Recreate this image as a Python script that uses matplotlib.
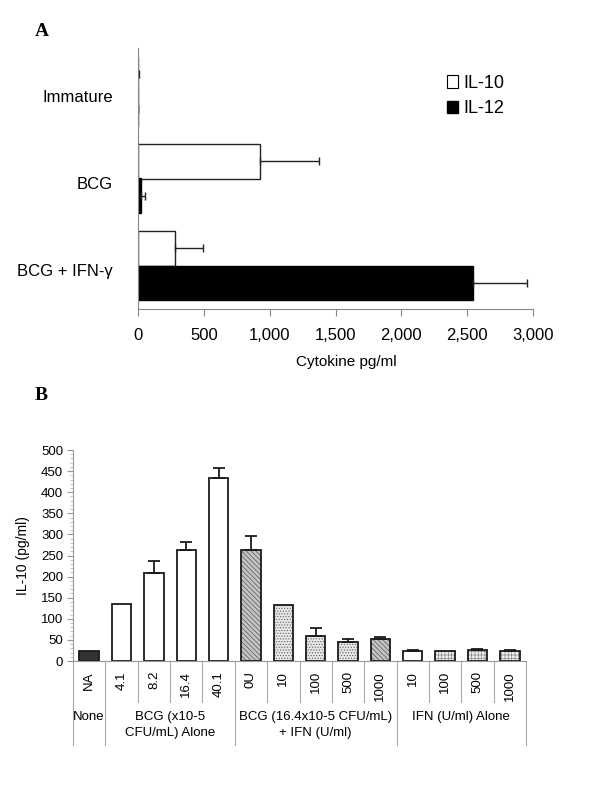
import matplotlib
matplotlib.use("Agg")
import matplotlib.pyplot as plt
from matplotlib.patches import Patch
import numpy as np

plt.rcParams['font.family'] = ['Liberation Sans', 'DejaVu Sans']
plt.rcParams['hatch.linewidth'] = 0.5

# ---------------- Panel A data ----------------
a_categories = ["Immature", "BCG", "BCG + IFN-\u03b3"]
a_il10 = [3, 927, 280]
a_il10_err = [8, 448, 214]
a_il12 = [1, 25, 2544]
a_il12_err = [2, 25, 410]
a_ticks = [0, 500, 1000, 1500, 2000, 2500, 3000]
a_xlabel = "Cytokine pg/ml"

# ---------------- Panel B data ----------------
b_labels = ["NA", "4.1", "8.2", "16.4", "40.1", "0U", "10", "100", "500", "1000",
            "10", "100", "500", "1000"]
b_values = [24, 134, 209, 262, 434, 262, 132, 59, 46, 53, 24, 24, 27, 24]
b_err = [0, 0, 28, 19, 23, 35, 0, 20, 7, 3, 3, 0, 1, 3]
b_groups = ["None", "BCG (x10-5\nCFU/mL) Alone", "BCG (16.4x10-5 CFU/mL)\n+ IFN (U/ml)",
            "IFN (U/ml) Alone"]
b_group_sizes = [1, 4, 5, 4]
b_yticks = [0, 50, 100, 150, 200, 250, 300, 350, 400, 450, 500]
b_ylabel = "IL-10 (pg/ml)"

fig = plt.figure(figsize=(6, 8), dpi=100)

# ================= Panel A =================
W, H = 600, 800
axA = fig.add_axes([138 / W, 1 - 309 / H, (533 - 138) / W, (309 - 48) / H])
ypos = np.arange(len(a_categories))[::-1].astype(float)
bh = 0.4
axA.barh(ypos + bh / 2, a_il10, height=bh, color="white", edgecolor="#222222", linewidth=1.0)
axA.barh(ypos - bh / 2, a_il12, height=bh, color="black", edgecolor="black", linewidth=1.0)
axA.errorbar(np.array(a_il10), ypos + bh / 2,
             xerr=[np.zeros(len(a_il10)), a_il10_err], fmt="none",
             ecolor="#222222", elinewidth=1.0, capsize=3, capthick=1.0)
axA.errorbar(np.array(a_il12), ypos - bh / 2,
             xerr=[np.zeros(len(a_il12)), a_il12_err], fmt="none",
             ecolor="#222222", elinewidth=1.0, capsize=3, capthick=1.0)
axA.set_xlim(0, 3000)
axA.set_ylim(-0.5, 2.5)
axA.set_yticks(ypos - 0.05)
axA.set_yticklabels(a_categories, fontsize=12)
axA.tick_params(axis="y", length=0, pad=18)
axA.set_xticks(a_ticks)
axA.set_xticklabels([f"{t:,}" for t in a_ticks], fontsize=12)
axA.tick_params(axis="x", direction="out", length=5, color="#888888", pad=9)
axA.set_xlabel(a_xlabel, fontsize=11)
axA.xaxis.set_label_coords((346 - 138) / 395, -(362 - 309) / 261)
axA.xaxis.label.set_va("center")
for s in ["top", "right"]:
    axA.spines[s].set_visible(False)
axA.spines["left"].set_color("#888888")
axA.spines["bottom"].set_color("#888888")
axA.spines["left"].set_linewidth(0.8)
axA.spines["bottom"].set_linewidth(0.8)
handles = [Patch(facecolor="white", edgecolor="black", linewidth=0.8, label="IL-10"),
           Patch(facecolor="black", edgecolor="black", label="IL-12")]
fig.legend(handles=handles, loc="upper left", bbox_to_anchor=(438 / W, 1 - 66 / H),
           frameon=False, fontsize=13, handlelength=0.6, handleheight=0.7,
           handletextpad=0.3, labelspacing=0.45, borderpad=0)
fig.text(35 / W, 1 - 31 / H, "A", fontsize=14, fontweight="bold",
         family="Liberation Serif", va="center", ha="left")

# ================= Panel B =================
x0, x1, y0, y1 = 73, 526, 661, 450
axB = fig.add_axes([x0 / W, 1 - y0 / H, (x1 - x0) / W, (y0 - y1) / H])
n = len(b_values)
xpos = np.arange(n)
styles = (
    [dict(face="#333333", hatch=None, hc=None)]
    + [dict(face="white", hatch=None, hc=None)] * 4
    + [dict(face="#c4c4c4", hatch="\\\\\\\\\\\\\\", hc="#555555")]
    + [dict(face="#e6e6e6", hatch="......", hc="#666666")] * 3
    + [dict(face="#c4c4c4", hatch="\\\\\\\\\\\\\\", hc="#555555")]
    + [dict(face="white", hatch=None, hc=None)]
    + [dict(face="#eeeeee", hatch="+++++", hc="#8a8a8a")] * 3
)
bw = 0.6
for i in range(n):
    st = styles[i]
    if st["hatch"]:
        axB.bar(xpos[i], b_values[i], width=bw, color=st["face"], edgecolor=st["hc"],
                hatch=st["hatch"], linewidth=0)
        axB.bar(xpos[i], b_values[i], width=bw, fill=False, edgecolor="#1a1a1a", linewidth=1.3)
    else:
        axB.bar(xpos[i], b_values[i], width=bw, color=st["face"], edgecolor="#1a1a1a",
                linewidth=1.3)
mask = np.array(b_err) > 0
axB.errorbar(xpos[mask], np.array(b_values)[mask],
             yerr=[np.zeros(mask.sum()), np.array(b_err)[mask]], fmt="none",
             ecolor="#1a1a1a", elinewidth=1.3, capsize=4, capthick=1.3)
axB.set_xlim(-0.5, n - 0.5)
axB.set_ylim(0, 500)
axB.set_yticks(b_yticks)
axB.set_yticklabels([str(t) for t in b_yticks], fontsize=9.5)
axB.set_yticks(np.arange(0, 501, 10), minor=True)
axB.tick_params(axis="y", which="major", length=4, color="#999999", pad=3)
axB.tick_params(axis="y", which="minor", length=2, color="#bbbbbb")
axB.set_xticks([])
axB.set_ylabel(b_ylabel, fontsize=10, labelpad=8)
for s in ["top", "right"]:
    axB.spines[s].set_visible(False)
axB.spines["left"].set_color("#999999")
axB.spines["bottom"].set_color("#999999")
axB.spines["left"].set_linewidth(0.8)
axB.spines["bottom"].set_linewidth(0.8)

trans = axB.get_xaxis_transform()
ph = y0 - y1


def fy(ypix):
    return (y0 - ypix) / ph


for i, lab in enumerate(b_labels):
    axB.text(xpos[i], fy(671), lab, rotation=90, ha="center", va="top",
             fontsize=9.5, transform=trans)

bounds = np.concatenate([[0], np.cumsum(b_group_sizes)])
group_edges = set(bounds.tolist())
for b in range(n + 1):
    bottom = fy(745) if b in group_edges else fy(702)
    axB.plot([b - 0.5, b - 0.5], [0, bottom], color="#aaaaaa", lw=0.8,
             transform=trans, clip_on=False)
for g, lab in enumerate(b_groups):
    c = (bounds[g] + bounds[g + 1] - 1) / 2
    axB.text(c, fy(711), lab, ha="center", va="top", fontsize=9.5,
             linespacing=1.45, transform=trans)

fig.text(35 / W, 1 - 396 / H, "B", fontsize=14, fontweight="bold",
         family="Liberation Serif", va="center", ha="left")

fig.savefig("out.png", dpi=100)
